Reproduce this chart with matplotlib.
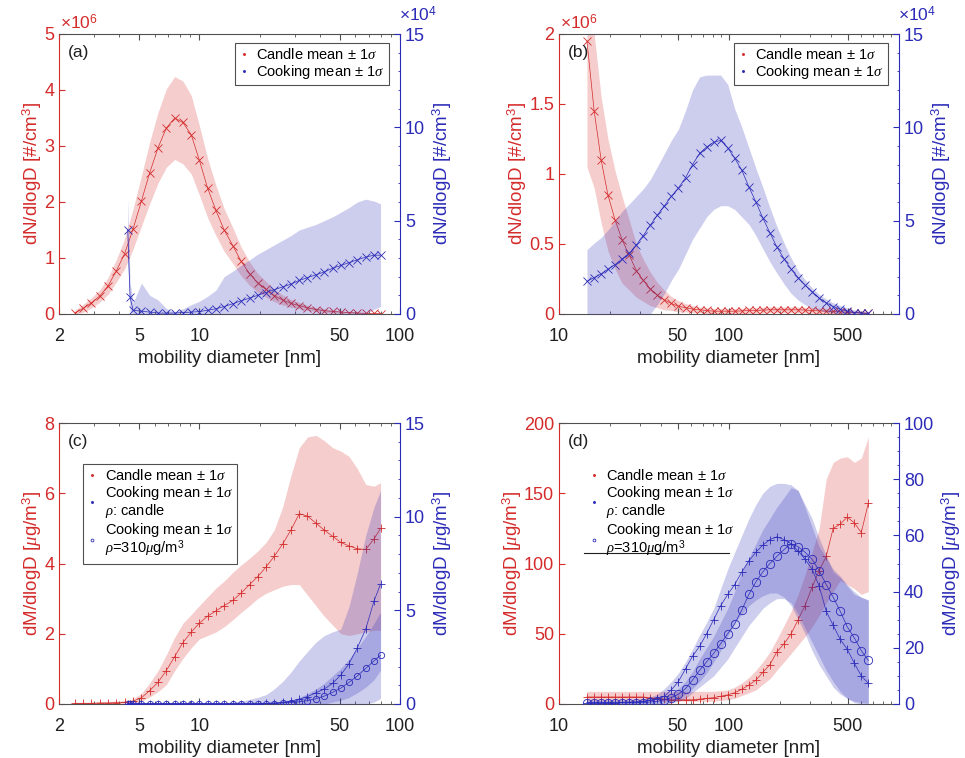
import numpy as np
import matplotlib
matplotlib.use('Agg')
import matplotlib.pyplot as plt
from matplotlib.lines import Line2D
from matplotlib.ticker import (FixedLocator, FixedFormatter, LogLocator, NullFormatter,
                               FormatStrFormatter, MultipleLocator)

plt.rcParams['font.family'] = ['Liberation Sans', 'DejaVu Sans']
plt.rcParams['mathtext.fontset'] = 'custom'
plt.rcParams['mathtext.rm'] = 'Liberation Sans'
plt.rcParams['mathtext.it'] = 'Liberation Serif:italic'
plt.rcParams['mathtext.bf'] = 'Liberation Sans:bold'

RED = '#d42b2b'
BLUE = '#2b2bb8'
GREY = '#505050'

## size grids [nm]
d_nano = [2.40, 2.64, 2.90, 3.19, 3.51, 3.86, 4.25, 4.68, 5.15, 5.66, 6.23, 6.85, 7.54, 8.29,
          9.12, 10.0, 11.0, 12.1, 13.3, 14.7, 16.1, 17.8, 19.5, 21.5, 23.6, 26.0, 28.6, 31.5,
          34.6, 38.1, 41.9, 46.1, 50.7, 55.7, 61.3, 67.5, 74.2, 80.0]
d_nano_cook = [4.40, 4.52, 4.68, 5.15, 5.66, 6.23, 6.85, 7.54, 8.29, 9.12, 10.0, 11.0, 12.1,
               13.3, 14.7, 16.1, 17.8, 19.5, 21.5, 23.6, 26.0, 28.6, 31.5, 34.6, 38.1, 41.9,
               46.1, 50.7, 55.7, 61.3, 67.5, 74.2, 80.0]
d_long = [14.6, 16.1, 17.7, 19.4, 21.4, 23.5, 25.9, 28.5, 31.3, 34.4, 37.9, 41.7, 45.8, 50.4,
          55.5, 61.0, 67.1, 73.8, 81.2, 89.3, 98.3, 108, 119, 131, 144, 158, 174, 191, 211,
          232, 255, 280, 308, 339, 373, 410, 451, 496, 546, 600, 660]

## (a) number, nano range  (candle in 1e6 #/cm3, cooking in 1e4 #/cm3)
a_candle = [0.02, 0.10, 0.20, 0.32, 0.50, 0.77, 1.08, 1.52, 2.02, 2.52, 2.97, 3.32, 3.50, 3.42,
            3.20, 2.75, 2.25, 1.85, 1.50, 1.22, 0.95, 0.72, 0.56, 0.44, 0.33, 0.25, 0.19, 0.15,
            0.11, 0.08, 0.06, 0.045, 0.035, 0.025, 0.018, 0.012, 0.010, 0.008]
a_candle_sd = [0.05, 0.07, 0.09, 0.11, 0.15, 0.2, 0.27, 0.36, 0.45, 0.55, 0.63, 0.7, 0.74, 0.74,
               0.7, 0.62, 0.53, 0.45, 0.38, 0.32, 0.26, 0.21, 0.17, 0.14, 0.11, 0.09, 0.07,
               0.055, 0.045, 0.035, 0.03, 0.025, 0.02, 0.015, 0.012, 0.01, 0.008, 0.007]
a_cook = [4.5, 0.9, 0.2, 0.15, 0.1, 0.05, 0.05, 0.05, 0.08, 0.1, 0.13, 0.2, 0.28, 0.4, 0.55,
          0.7, 0.85, 1.0, 1.15, 1.3, 1.45, 1.6, 1.8, 1.95, 2.1, 2.25, 2.45, 2.6, 2.75, 2.9,
          3.05, 3.15, 3.15]
a_cook_sd = [1.8, 0.8, 0.4, 1.5, 0.9, 0.7, 0.25, 0.05, 0.2, 0.4, 0.55, 0.75, 1.0, 1.6, 1.75,
             1.9, 2.05, 2.2, 2.3, 2.4, 2.5, 2.6, 2.7, 2.7, 2.7, 2.75, 2.75, 2.85, 2.95, 3.1,
             3.1, 2.9, 2.75]

## (b) number, long range
b_candle = [1.95, 1.45, 1.1, 0.85, 0.67, 0.53, 0.42, 0.31, 0.24, 0.18, 0.135, 0.1, 0.075,
            0.055, 0.045, 0.035, 0.03, 0.025, 0.02, 0.02, 0.02, 0.02, 0.022, 0.025, 0.025,
            0.028, 0.03, 0.03, 0.03, 0.03, 0.03, 0.028, 0.025, 0.022, 0.02, 0.018, 0.015,
            0.012, 0.01, 0.008, 0.006]
b_candle_sd = [0.9, 0.55, 0.45, 0.4, 0.35, 0.31, 0.25, 0.19, 0.15, 0.12, 0.09, 0.07, 0.05,
               0.04, 0.03, 0.025, 0.02, 0.02, 0.02, 0.02, 0.02, 0.02, 0.02, 0.02, 0.02, 0.02,
               0.02, 0.02, 0.02, 0.02, 0.02, 0.02, 0.02, 0.02, 0.02, 0.02, 0.015, 0.012, 0.01,
               0.008, 0.006]
b_cook = [1.75, 1.95, 2.15, 2.4, 2.65, 2.95, 3.25, 3.7, 4.2, 4.75, 5.3, 5.8, 6.3, 6.75, 7.3,
          8.0, 8.6, 8.95, 9.2, 9.3, 8.9, 8.35, 7.7, 6.8, 6.0, 5.15, 4.35, 3.6, 2.95, 2.4,
          1.95, 1.55, 1.2, 0.85, 0.6, 0.4, 0.25, 0.15, 0.08, 0.05, 0.03]
b_cook_lo = [0, 0, 0, 0, 0, 0, 0, 0, 0, 0, 0.5, 1.1, 1.8, 2.4, 3.2, 4.0, 4.6, 5.2, 5.6, 5.8,
             5.8, 5.6, 5.2, 4.8, 4.2, 3.5, 2.8, 2.2, 1.6, 1.1, 0.75, 0.5, 0.3, 0.2, 0.1, 0.05,
             0, 0, 0, 0, 0]
b_cook_hi = [3.45, 3.8, 4.1, 4.5, 5.0, 5.5, 5.9, 6.3, 6.7, 7.2, 7.9, 8.6, 9.3, 9.9, 10.9,
             12.0, 12.7, 12.8, 12.8, 12.8, 12.3, 11.0, 10.0, 8.9, 7.8, 6.8, 5.7, 4.7, 3.8,
             3.0, 2.3, 1.85, 1.4, 1.05, 0.8, 0.6, 0.45, 0.32, 0.22, 0.15, 0.1]

## (c) mass, nano range
c_candle = [0.02, 0.02, 0.02, 0.03, 0.03, 0.04, 0.05, 0.08, 0.18, 0.38, 0.62, 0.95, 1.35, 1.75,
            2.05, 2.3, 2.5, 2.65, 2.8, 2.95, 3.15, 3.4, 3.62, 3.9, 4.2, 4.55, 4.95, 5.42,
            5.35, 5.15, 4.95, 4.78, 4.6, 4.5, 4.42, 4.4, 4.7, 5.0]
c_candle_lo = [0, 0, 0, 0, 0, 0, 0, 0.02, 0.08, 0.2, 0.35, 0.55, 0.95, 1.3, 1.6, 1.85, 1.95,
               2.05, 2.2, 2.4, 2.6, 2.8, 3.0, 3.15, 3.25, 3.35, 3.4, 3.4, 3.1, 2.8, 2.5,
               2.25, 2.0, 1.95, 2.0, 2.05, 2.1, 2.1]
c_candle_hi = [0.04, 0.04, 0.05, 0.06, 0.07, 0.08, 0.1, 0.15, 0.3, 0.6, 0.95, 1.4, 1.9, 2.3,
               2.55, 2.8, 3.05, 3.3, 3.5, 3.75, 3.95, 4.15, 4.35, 4.6, 4.95, 5.6, 6.5, 7.3,
               7.6, 7.65, 7.5, 7.3, 7.2, 7.05, 6.7, 6.25, 6.2, 6.3]
c_cook_rc = [0.02] * 18 + [0.04, 0.06, 0.1, 0.15, 0.25, 0.4, 0.6, 0.8, 1.1, 1.55, 2.15, 3.0,
                           4.0, 5.5, 6.4]
c_cook_rc_lo = [0] * 18 + [0, 0, 0, 0, 0, 0, 0, 0, 0.1, 0.2, 0.35, 0.6, 0.9, 1.3, 1.8]
c_cook_rc_hi = [0.05] * 14 + [0.1, 0.15, 0.25, 0.35, 0.5, 0.8, 1.2, 1.7, 2.3, 2.8, 3.3, 3.65,
                              3.85, 4.0, 5.2, 7.0, 9.0, 10.5, 11.4]
c_cook_310 = [0.02] * 18 + [0.02, 0.02, 0.05, 0.08, 0.12, 0.18, 0.28, 0.42, 0.62, 0.85, 1.15,
                            1.5, 1.9, 2.3, 2.6]
c_cook_310_lo = [0] * 31 + [0.1, 0.3]
c_cook_310_hi = [0.04] * 18 + [0.05, 0.08, 0.12, 0.2, 0.35, 0.55, 0.8, 1.1, 1.5, 1.9, 2.4,
                               3.0, 3.6, 4.3, 4.9]

## (d) mass, long range
d_candle = [5, 5, 5, 5, 5, 5, 5, 5, 5, 4.5, 4, 3.5, 3, 3, 3, 3, 3.5, 4, 4.5, 5.5, 6.5, 8, 10.5,
            13.5, 17, 22.5, 28, 37, 43, 50, 60, 70, 83, 95, 105, 125, 128, 133, 129, 122, 143]
d_candle_lo = [2] * 19 + [2.5, 3, 4, 6, 8, 10, 14, 18, 24, 30, 36, 42, 48, 55, 63, 72, 80, 88,
                          85, 82, 78, 80]
d_candle_hi = [9] * 19 + [9.5, 10, 12, 15, 19, 24, 30, 37, 46, 56, 66, 78, 92, 108, 125, 160,
                          172, 175, 176, 172, 175, 190]
d_cook_rc = [0.5] * 5 + [0.6, 0.7, 0.8, 1.0, 1.4, 1.9, 2.8, 5, 8, 12.5, 17, 20.5, 25, 30, 35,
                         39, 42.5, 47, 51, 54, 56.5, 58.5, 59.5, 58.5, 57, 54.5, 51.5, 48,
                         42, 33, 28, 23, 19.5, 14.5, 10, 7.4]
d_cook_rc_lo = [0] * 10 + [0.2, 0.5, 1, 2, 3.5, 5.5, 8, 11, 15, 19, 24, 29, 32, 35, 37, 38.5,
                           39.5, 39.5, 38, 35, 30, 25, 19, 14, 10, 6, 3.5, 2, 1, 0.5, 0.3]
d_cook_rc_hi = [1.5] * 8 + [2, 2.5, 3.5, 5.5, 8, 11, 15, 19.5, 24.5, 29, 34, 41, 48, 54, 60,
                            66, 71, 75, 77.5, 78.5, 78.5, 78, 76, 71, 66, 59, 53, 47, 45, 42,
                            39, 38, 37]
d_cook_310 = [0.4] * 8 + [0.5, 0.7, 1.0, 1.5, 2.3, 3.5, 5.5, 8.5, 12, 15, 18, 21.5, 25, 28.5,
                          33.5, 39, 43.5, 47, 50, 52.5, 55, 57, 56, 54, 51.5, 47.5, 42.5, 38,
                          33, 27.5, 23.5, 19, 15.5]
d_cook_310_lo = [0] * 12 + [0.3, 1, 2, 4, 6, 8, 10, 13, 16, 20, 24, 28, 31, 34, 36, 37.5, 37.5,
                            36, 32, 27, 22, 17, 12, 8, 4.5, 2, 0.5, 0, 0]
d_cook_310_hi = [1.2] * 11 + [2.5, 3.5, 5.5, 8, 11.5, 16, 20, 24, 29, 34, 40, 47, 52, 57, 62,
                              66, 70, 73.5, 77, 76, 70, 63, 56, 52, 48, 45.5, 42.5, 40, 38, 37]

LBL_CANDLE = r'Candle mean $\pm$ 1$\sigma$'
LBL_COOK = r'Cooking mean $\pm$ 1$\sigma$'
LBL_COOK_RC = 'Cooking mean $\\pm$ 1$\\sigma$\n$\\rho$: candle'
LBL_COOK_310 = 'Cooking mean $\\pm$ 1$\\sigma$\n$\\rho$=310$\\mu$g/m$^3$'


def series(ax, x, mean, lo, hi, color, marker, ms=5.5):
    lo = np.maximum(np.asarray(lo, float), 0)
    ax.fill_between(x, lo, hi, color=color, alpha=0.23, lw=0)
    ax.plot(x, mean, color=color, lw=0.5, marker=marker, ms=ms, mew=0.6, mfc='none')


def setup(ax, ax2, xlim, xticks, ylim, yticks, ylim2, yticks2, ylabel, ylabel2, minor2,
          letter, exps=None):
    ax.set_xscale('log')
    ax.set_xlim(xlim)
    ax.xaxis.set_major_locator(FixedLocator(xticks))
    ax.xaxis.set_major_formatter(FixedFormatter([str(t) for t in xticks]))
    ax.xaxis.set_minor_locator(LogLocator(subs=np.arange(2, 10)))
    ax.xaxis.set_minor_formatter(NullFormatter())
    ax.set_ylim(ylim)
    ax.set_yticks(yticks)
    ax.yaxis.set_major_formatter(FormatStrFormatter('%g'))
    ax2.set_ylim(ylim2)
    ax2.set_yticks(yticks2)
    ax2.yaxis.set_major_formatter(FormatStrFormatter('%g'))
    ax2.yaxis.set_minor_locator(MultipleLocator(minor2))
    if exps:
        ax.text(0.003, 1.006, r'$\times$10$^{%d}$' % exps[0], transform=ax.transAxes,
                ha='left', va='bottom', fontsize=12.5, color=RED)
        ax2.text(0.997, 1.035, r'$\times$10$^{%d}$' % exps[1], transform=ax2.transAxes,
                 ha='left', va='bottom', fontsize=12.5, color=BLUE)

    ax.tick_params(axis='x', which='major', direction='in', top=True, length=4,
                   labelsize=13, color=GREY, labelcolor='#202020', pad=10)
    ax.tick_params(axis='x', which='minor', direction='in', top=True, length=2, color=GREY)
    ax.tick_params(axis='y', direction='in', length=4, labelsize=13, colors=RED, right=False)
    ax2.tick_params(axis='y', which='major', direction='in', length=4, labelsize=13,
                    colors=BLUE)
    ax2.tick_params(axis='y', which='minor', direction='in', length=1.5, colors=BLUE)

    ax.spines['left'].set_color(RED)
    ax.spines['right'].set_visible(False)
    ax.spines['top'].set_color(GREY)
    ax.spines['bottom'].set_color(GREY)
    for s in ('left', 'top', 'bottom'):
        ax2.spines[s].set_visible(False)
    ax2.spines['right'].set_color(BLUE)

    ax.set_xlabel('mobility diameter [nm]', fontsize=13.5, color='#202020', labelpad=4)
    ax.set_ylabel(ylabel, fontsize=13.5, color=RED, labelpad=0)
    ax2.set_ylabel(ylabel2, fontsize=13.5, color=BLUE, labelpad=4)
    ax.text(0.025, 0.935, letter, transform=ax.transAxes, fontsize=12.5, va='center',
            color='#202020')


def handle(color, marker='.', ms=3):
    return Line2D([0], [0], color=color, marker=marker, ls='none', ms=ms,
                  mfc='none' if marker == 'o' else color, mew=0.6)


def legend(ax2, handles, labels, anchor, loc, frame=True):
    leg = ax2.legend(handles, labels, loc=loc, bbox_to_anchor=anchor, fontsize=10.5,
                     fancybox=False, framealpha=1, edgecolor=GREY, frameon=frame,
                     handlelength=0.7, handletextpad=0.5, borderpad=0.3, labelspacing=0.05,
                     borderaxespad=0)
    leg.get_frame().set_linewidth(0.8)
    for t in leg.get_texts():
        t.set_linespacing(1.0)
    return leg


fig = plt.figure(figsize=(9.65, 7.58), dpi=100)


def make_axes(x0, x1, top, bottom):
    ax = fig.add_axes([x0 / 965, 1 - bottom / 758, (x1 - x0) / 965, (bottom - top) / 758])
    ax2 = ax.twinx()
    return ax, ax2


# ---- (a)
ax, ax2 = make_axes(59, 400, 34, 314)
m = np.array(a_candle)
s = np.array(a_candle_sd)
series(ax, d_nano, m, m - s, m + s, RED, 'x')
m = np.array(a_cook)
s = np.array(a_cook_sd)
series(ax2, d_nano_cook, m, m - s, m + s, BLUE, 'x')
setup(ax, ax2, (2, 100), [2, 5, 10, 50, 100], (0, 5), [0, 1, 2, 3, 4, 5], (0, 15),
      [0, 5, 10, 15], r'dN/dlogD [#/cm$^3$]', r'dN/dlogD [#/cm$^3$]', 1, '(a)', exps=(6, 4))
legend(ax2, [handle(RED), handle(BLUE)], [LBL_CANDLE, LBL_COOK], (0.968, 0.968),
       'upper right')

# ---- (b)
ax, ax2 = make_axes(559, 899, 34, 314)
m = np.array(b_candle)
s = np.array(b_candle_sd)
series(ax, d_long, m, m - s, m + s, RED, 'x')
series(ax2, d_long, b_cook, b_cook_lo, b_cook_hi, BLUE, 'x')
setup(ax, ax2, (10, 1000), [10, 50, 100, 500], (0, 2), [0, 0.5, 1, 1.5, 2], (0, 15),
      [0, 5, 10, 15], r'dN/dlogD [#/cm$^3$]', r'dN/dlogD [#/cm$^3$]', 1, '(b)', exps=(6, 4))
legend(ax2, [handle(RED), handle(BLUE)], [LBL_CANDLE, LBL_COOK], (0.968, 0.968),
       'upper right')

# ---- (c)
ax, ax2 = make_axes(59, 400, 423, 704)
series(ax, d_nano, c_candle, c_candle_lo, c_candle_hi, RED, '+')
series(ax2, d_nano_cook, c_cook_rc, c_cook_rc_lo, c_cook_rc_hi, BLUE, '+')
series(ax2, d_nano_cook, c_cook_310, c_cook_310_lo, c_cook_310_hi, BLUE, 'o', ms=4.5)
setup(ax, ax2, (2, 100), [2, 5, 10, 50, 100], (0, 8), [0, 2, 4, 6, 8], (0, 15),
      [0, 5, 10, 15], r'dM/dlogD [$\mu$g/m$^3$]', r'dM/dlogD [$\mu$g/m$^3$]', 1, '(c)')
legend(ax2, [handle(RED), handle(BLUE), handle(BLUE, 'o', 2)],
       [LBL_CANDLE, LBL_COOK_RC, LBL_COOK_310], (0.07, 0.855), 'upper left')

# ---- (d)
ax, ax2 = make_axes(559, 899, 423, 704)
series(ax, d_long, d_candle, d_candle_lo, d_candle_hi, RED, '+')
series(ax2, d_long, d_cook_rc, d_cook_rc_lo, d_cook_rc_hi, BLUE, '+')
series(ax2, d_long, d_cook_310, d_cook_310_lo, d_cook_310_hi, BLUE, 'o', ms=6)
setup(ax, ax2, (10, 1000), [10, 50, 100, 500], (0, 200), [0, 50, 100, 150, 200], (0, 100),
      [0, 20, 40, 60, 80, 100], r'dM/dlogD [$\mu$g/m$^3$]', r'dM/dlogD [$\mu$g/m$^3$]', 5,
      '(d)')
legend(ax2, [handle(RED), handle(BLUE), handle(BLUE, 'o', 2)],
       [LBL_CANDLE, LBL_COOK_RC, LBL_COOK_310], (0.074, 0.855), 'upper left', frame=False)
ax2.plot([0.074, 0.5], [0.537, 0.537], transform=ax2.transAxes, color='#202020', lw=0.8)

fig.savefig('out.png', dpi=100)
